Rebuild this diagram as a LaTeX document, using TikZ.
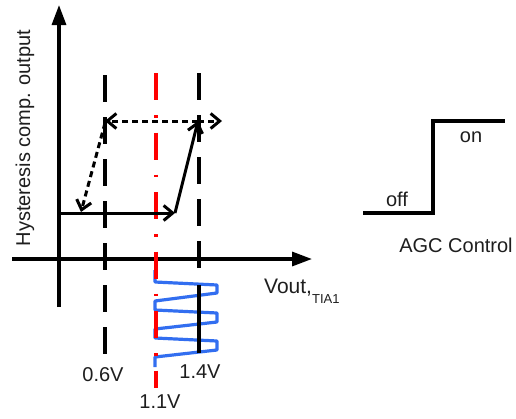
\documentclass[tikz,border=0pt]{standalone}
\usepackage{fontspec}
\setmainfont{Liberation Sans}
\usetikzlibrary{arrows.meta}
\definecolor{wblue}{RGB}{50,110,240}
\definecolor{txtc}{RGB}{30,30,30}
\begin{document}
\begin{tikzpicture}[x=1pt,y=-1pt,
  axis/.style={line width=3.2pt, -{Triangle[length=20pt,width=14pt]}},
  vdash/.style={line width=3.2pt, dash pattern=on 27pt off 15pt},
  rdash/.style={red, line width=3.2pt, dash pattern=on 27pt off 15pt on 2.5pt off 15pt},
  hyst/.style={line width=3pt, -{Straight Barb[length=9pt,width=15pt,line width=3pt]}},
  hystd/.style={hyst, dash pattern=on 6pt off 4pt},
  wave/.style={wblue, line width=3.2pt, line join=round},
  stepline/.style={line width=3.4pt},
  lbl/.style={font=\fontsize{20}{24}\selectfont, inner sep=0pt, text=txtc}
]
\useasboundingbox (0,0) rectangle (516,418);

% coordinates
\coordinate (yb) at (59,307);
\coordinate (yt) at (59,5);
\coordinate (xl) at (12,259);
\coordinate (xr) at (312,259);
\coordinate (lo0) at (59,213);
\coordinate (lo1) at (175,213);
\coordinate (hi1) at (198,121);
\coordinate (hir) at (222,121);
\coordinate (hil) at (105,121);
\coordinate (hil2) at (105,123);
\coordinate (lo2) at (81,212);

% blue wave
\draw[wave] (155,270) -- (155,282) -- (217,285) -- (217,293) -- (155,301) -- (155,310)
  -- (217,313) -- (217,322) -- (155,329) -- (155,338) -- (217,341) -- (217,350)
  -- (155,357) -- (155,367);

% axes
\draw[axis] (yb) -- (yt);
\draw[axis] (xl) -- (xr);

% vertical threshold lines
\draw[vdash] (105,75) -- (105,357);
\draw[vdash] (199,73) -- (199,270);
\draw[line width=3.2pt] (199,285) -- (199,353);
\draw[rdash] (156,73) -- (156,388);

% hysteresis
\draw[hyst] (lo0) -- (lo1);
\draw[hyst] (lo1) -- (hi1);
\draw[hystd] (hi1) -- (hir);
\draw[hystd] (hi1) -- (hil);
\draw[hystd] (hil2) -- (lo2);

% AGC step
\coordinate (a0) at (363,213);
\coordinate (a1) at (433,213);
\coordinate (a2) at (433,121);
\coordinate (a3) at (505,121);
\draw[stepline] (a0) -- (a1) -- (a2) -- (a3);

% labels
\node[lbl, rotate=90] (ylab) at (25,138) {Hysteresis comp. output};
\node[lbl] (v06) at (103,375) {0.6V};
\node[lbl] (v14) at (200,372) {1.4V};
\node[lbl] (v11) at (160,402) {1.1V};
\node[lbl, anchor=base west] (vout) at (264,293) {\fontsize{21}{24}\selectfont Vout,\raisebox{-10pt}{\fontsize{13}{15}\selectfont TIA1}};
\node[lbl] (off) at (397,199) {off};
\node[lbl] (on) at (471,137) {on};
\node[lbl] (agc) at (456,245) {AGC Control};
\end{tikzpicture}
\end{document}
